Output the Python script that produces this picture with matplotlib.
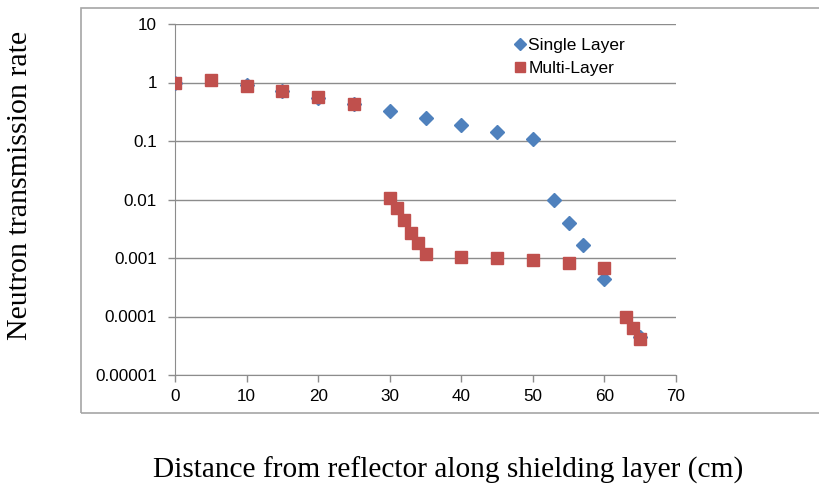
"""
Neutron transmission rate vs distance along shielding layer
"""

import matplotlib.pyplot as plt
from matplotlib.patches import Rectangle
from matplotlib.ticker import FixedLocator, FuncFormatter

# data
single_x = [0, 10, 15, 20, 25, 30, 35, 40, 45, 50, 53, 55, 57, 60, 65]
single_y = [0.97, 0.9, 0.72, 0.55, 0.43, 0.32, 0.25, 0.19, 0.145, 0.11,
            0.0098, 0.004, 0.0017, 0.00043, 0.000044]

multi_x = [0, 5, 10, 15, 20, 25, 30, 31, 32, 33, 34, 35,
           40, 45, 50, 55, 60, 63, 64, 65]
multi_y = [0.97, 1.12, 0.88, 0.72, 0.56, 0.43, 0.0108, 0.0071, 0.0044,
           0.0027, 0.0018, 0.00115, 0.00105, 0.00099, 0.00092, 0.00081,
           0.00068, 0.0001, 0.000064, 0.000042]

y_ticks = [1e-5, 1e-4, 1e-3, 1e-2, 1e-1, 1, 10]
y_tick_labels = ["0.00001", "0.0001", "0.001", "0.01", "0.1", "1", "10"]
x_ticks = [0, 10, 20, 30, 40, 50, 60, 70]

BLUE = "#4F81BD"
RED = "#C0504D"
GRID = "#8c8c8c"

fig = plt.figure(figsize=(8.19, 4.91), dpi=100)

# outer chart-area frame
fig.patches.append(Rectangle((81 / 819, 1 - 413 / 491), 0.95, (413 - 8) / 491,
                             transform=fig.transFigure, fill=False,
                             edgecolor="#a6a6a6", linewidth=1.2))

ax = fig.add_axes([175 / 819, 1 - 375 / 491, (676 - 175) / 819, (375 - 24) / 491])

ax.plot(single_x, single_y, linestyle="none", marker="D", markersize=7.2,
        color=BLUE, label="Single Layer", zorder=3)
ax.plot(multi_x, multi_y, linestyle="none", marker="s", markersize=8.3,
        color=RED, label="Multi-Layer", zorder=4)

ax.set_yscale("log")
ax.set_ylim(1e-5, 10)
ax.set_xlim(0, 70)
ax.yaxis.set_major_locator(FixedLocator(y_ticks))
ax.yaxis.set_major_formatter(FuncFormatter(lambda v, pos: y_tick_labels[pos]))
ax.yaxis.set_minor_locator(FixedLocator([]))
ax.set_xticks(x_ticks)

ax.grid(True, axis="y", color=GRID, linewidth=1)
ax.set_axisbelow(True)
for side in ("top", "right"):
    ax.spines[side].set_visible(False)
for side in ("left", "bottom"):
    ax.spines[side].set_color(GRID)
ax.tick_params(direction="out", length=5, color=GRID, width=1,
               labelsize=12.3, labelcolor="#000000")
ax.tick_params(axis="x", pad=5)
ax.tick_params(axis="y", pad=8)
for lab in ax.get_xticklabels() + ax.get_yticklabels():
    lab.set_family("Liberation Sans")

leg = ax.legend(loc="upper right", bbox_to_anchor=(0.912, 0.98), frameon=False,
                prop={"family": "Liberation Sans", "size": 12.5},
                handlelength=0.6, handletextpad=0.2, borderaxespad=0,
                labelspacing=0.45, markerscale=0.85)

fig.text(20 / 819, 1 - 185 / 491, "Neutron transmission rate", rotation=90,
         ha="center", va="center", family="Liberation Serif", fontsize=21.5)
fig.text(448 / 819, 1 - 470 / 491,
         "Distance from reflector along shielding layer (cm)",
         ha="center", va="center", family="Liberation Serif", fontsize=21.2)

fig.savefig("out.png", dpi=100)
